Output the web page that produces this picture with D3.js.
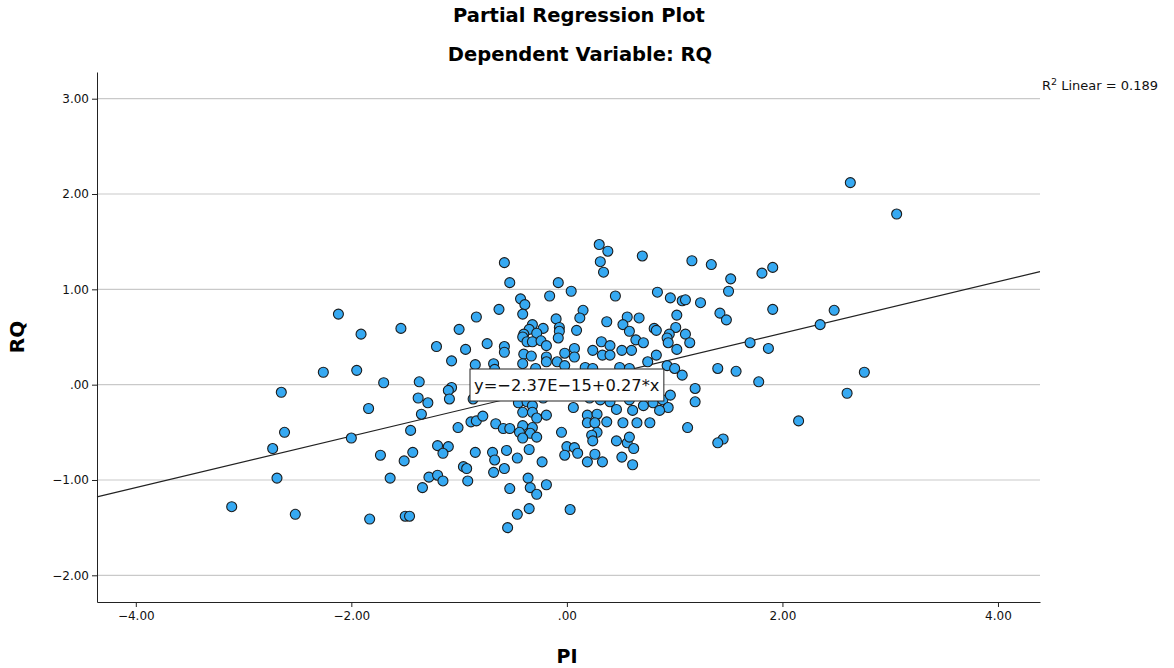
<!DOCTYPE html>
<html>
<head>
<meta charset="utf-8">
<script src="https://cdn.jsdelivr.net/npm/d3@7"></script>
<style>
  body { margin: 0; background: #fff; }
  text { font-family: "DejaVu Sans", sans-serif; }
</style>
</head>
<body>
<div id="roott"></div>
<script>
// DATA  (PI residual, RQ residual)
const points = [
  [2.63,2.12],[3.06,1.79],[-3.11,-1.28],[-2.73,-0.67],[-2.69,-0.98],[-2.65,-0.08],[-2.62,-0.50],[-2.52,-1.36],
  [-2.26,0.13],[-2.12,0.74],[-2.00,-0.56],[-1.95,0.15],[-1.91,0.53],[-1.84,-0.25],[-1.83,-1.41],[-1.73,-0.74],
  [-1.70,0.02],[-1.64,-0.98],[-1.54,0.59],[-1.51,-0.80],[-1.50,-1.38],[-1.46,-1.38],[-1.45,-0.48],[-1.43,-0.71],
  // upper left of centre
  [-0.58,1.28],[-0.53,1.07],[-0.43,0.90],[-0.39,0.84],[-0.41,0.74],[-0.63,0.79],[-0.84,0.71],[-1.00,0.58],
  [-0.16,0.93],[-0.32,0.63],[-0.22,0.59],[-0.35,0.58],[-0.40,0.53],[-0.28,0.54],
  // upper right of centre
  [0.30,1.47],[0.38,1.40],[0.31,1.29],[0.34,1.18],[0.70,1.35],[1.16,1.30],[1.34,1.26],[-0.08,1.07],[0.04,0.98],
  [0.45,0.93],[0.84,0.97],[0.96,0.91],[1.07,0.88],[1.10,0.89],[1.24,0.86],[1.42,0.75],[0.15,0.78],[0.12,0.70],
  [-0.10,0.69],[0.37,0.66],[0.56,0.71],[0.67,0.70],[0.52,0.63],[0.58,0.56],[0.09,0.57],[-0.07,0.60],[-0.07,0.56],
  [0.81,0.59],[0.83,0.57],[1.01,0.60],[1.02,0.73],[0.95,0.53],[1.10,0.53],
  // right side
  [1.52,1.11],[1.50,0.98],[1.81,1.17],[1.91,1.23],[1.48,0.68],[1.91,0.79],[2.48,0.78],[2.35,0.63],[1.70,0.44],
  [1.87,0.38],[1.57,0.14],[1.78,0.03],[2.76,0.13],[2.60,-0.09],[2.15,-0.38],[1.45,-0.57],[1.40,-0.61],[1.40,0.17],
  // centre left
  [-1.21,0.40],[-0.94,0.37],[-0.74,0.43],[-0.58,0.40],[-0.58,0.34],[-1.07,0.25],[-0.85,0.21],[-0.68,0.22],
  [-0.67,0.16],[-0.41,0.50],[-0.37,0.45],[-0.32,0.45],[-0.24,0.46],[-0.19,0.41],[-0.40,0.32],[-0.33,0.30],
  [-0.19,0.29],[-0.41,0.22],[-0.29,0.17],[-0.37,0.10],[-0.19,0.24],[-1.37,0.03],[-1.07,-0.03],[-1.10,-0.06],
  [-1.09,-0.15],[-1.38,-0.14],[-1.29,-0.19],[-0.87,-0.15],[-1.35,-0.31],[-1.01,-0.45],[-0.89,-0.39],[-0.84,-0.38],
  [-0.78,-0.33],[-0.66,-0.41],[-0.59,-0.46],[-0.53,-0.46],[-0.45,-0.19],[-0.37,-0.18],[-0.32,-0.22],[-0.41,-0.29],
  [-0.32,-0.29],[-0.28,-0.35],[-0.41,-0.43],[-0.32,-0.45],[-0.22,-0.14],[-0.19,-0.32],[-0.44,-0.50],[-0.34,-0.51],
  // centre right
  [-0.08,0.49],[-0.02,0.33],[0.07,0.38],[0.07,0.29],[-0.09,0.24],[-0.02,0.20],[0.17,0.18],[0.24,0.17],
  [0.32,0.45],[0.40,0.41],[0.33,0.31],[0.40,0.31],[0.24,0.36],[0.51,0.36],[0.60,0.36],[0.64,0.47],
  [0.71,0.44],[0.49,0.18],[0.58,0.17],[0.75,0.24],[0.83,0.31],[0.93,0.49],[0.94,0.44],[1.02,0.37],
  [1.14,0.44],[0.93,0.20],[1.00,0.17],[1.07,0.10],[1.19,-0.04],[1.19,-0.18],[1.12,-0.45],[-0.11,0.10],
  [0.06,-0.24],[0.19,-0.32],[0.28,-0.31],[0.19,-0.40],[0.26,-0.40],[0.37,-0.39],[0.52,-0.40],[0.65,-0.40],
  [0.77,-0.40],[0.40,-0.18],[0.46,-0.26],[0.71,-0.22],[0.80,-0.19],[0.89,-0.16],[0.94,-0.24],[0.96,-0.11],
  [0.58,-0.16],[0.21,-0.14],[0.31,-0.16],[0.28,-0.50],[-0.05,-0.50],[0.86,-0.27],[0.61,-0.27],
  // lower left
  [-1.20,-0.64],[-1.10,-0.65],[-1.15,-0.72],[-1.34,-1.08],[-1.28,-0.97],[-1.20,-0.95],[-1.15,-1.01],[-0.85,-0.71],
  [-0.96,-0.86],[-0.93,-0.88],[-0.92,-1.01],[-0.69,-0.71],[-0.67,-0.79],[-0.56,-0.69],[-0.46,-0.77],[-0.58,-0.88],
  [-0.68,-0.92],[-0.35,-0.68],[-0.41,-0.56],[-0.28,-0.55],[-0.23,-0.81],[-0.36,-0.98],[-0.34,-1.08],[-0.28,-1.15],
  [-0.19,-1.05],[-0.53,-1.09],[-0.35,-1.30],[-0.46,-1.36],[-0.55,-1.50],
  // lower right
  [0.23,-0.53],[0.24,-0.59],[0.00,-0.65],[0.07,-0.66],[-0.02,-0.74],[0.10,-0.72],[0.19,-0.81],[0.26,-0.73],
  [0.33,-0.81],[0.46,-0.59],[0.56,-0.61],[0.58,-0.55],[0.62,-0.67],[0.51,-0.76],[0.61,-0.84],[0.03,-1.31]
];

const xTicks = [-4, -2, 0, 2, 4];
const yTicks = [-2, -1, 0, 1, 2, 3];
const fitLine = { intercept: -2.37e-15, slope: 0.27 };
const rSquared = 0.189;

// DIMENSIONS
const W = 1174, H = 668;
const plotLeft = 97, plotRight = 1040, plotTop = 72, plotBottom = 602;

// SPSS style numbers: .00, 2.00, −1.00
function spssFmt(d) {
  let s = Math.abs(d).toFixed(2);
  if (Math.abs(d) < 1) s = s.replace(/^0/, '');
  return (d < 0 ? '\u2212' : '') + s;
}

let svg = d3.select('#roott').append('svg')
  .attr('width', W).attr('height', H);

let xScale = d3.scaleLinear().domain([-4.36, 4.39]).range([plotLeft, plotRight]);
let yScale = d3.scaleLinear().domain([-2.28, 3.28]).range([plotBottom, plotTop]);

// titles
svg.append('text').attr('x', 579).attr('y', 22).attr('text-anchor', 'middle')
  .style('font-size', '19.5px').style('font-weight', 'bold').text('Partial Regression Plot');
svg.append('text').attr('x', 580).attr('y', 61).attr('text-anchor', 'middle')
  .style('font-size', '19.5px').style('font-weight', 'bold').text('Dependent Variable: RQ');

// grid lines
svg.append('g').selectAll('line').data(yTicks).enter().append('line')
  .attr('x1', plotLeft).attr('x2', plotRight)
  .attr('y1', d => yScale(d)).attr('y2', d => yScale(d))
  .style('stroke', '#c9c9c9').style('stroke-width', 1.2);

// axes
let yAxis = svg.append('g').attr('transform', `translate(${plotLeft},0)`)
  .call(d3.axisLeft(yScale).tickValues(yTicks).tickFormat(spssFmt).tickSize(5).tickSizeOuter(0));
let xAxis = svg.append('g').attr('transform', `translate(0,${plotBottom})`)
  .call(d3.axisBottom(xScale).tickValues(xTicks).tickFormat(spssFmt).tickSize(5).tickSizeOuter(0));
[xAxis, yAxis].forEach(g => {
  g.select('.domain').style('stroke', '#222');
  g.selectAll('.tick line').style('stroke', '#222');
  g.selectAll('.tick text').style('font-family', '"DejaVu Sans", sans-serif')
    .style('font-size', '12px').style('fill', '#111');
});
yAxis.selectAll('.tick text').attr('x', -8);
xAxis.selectAll('.tick text').attr('y', 9);

// axis titles
svg.append('text').attr('x', 567).attr('y', 663).attr('text-anchor', 'middle')
  .style('font-size', '19px').style('font-weight', 'bold').text('PI');
svg.append('text').attr('transform', 'translate(24,337) rotate(-90)').attr('text-anchor', 'middle')
  .style('font-size', '20px').style('font-weight', 'bold').text('RQ');

// fit line across plot
let x0 = xScale.domain()[0], x1 = xScale.domain()[1];
svg.append('line')
  .attr('x1', xScale(x0)).attr('y1', yScale(fitLine.intercept + fitLine.slope * x0))
  .attr('x2', xScale(x1)).attr('y2', yScale(fitLine.intercept + fitLine.slope * x1))
  .style('stroke', '#222').style('stroke-width', 1.2);

// points
svg.append('g').selectAll('circle').data(points).enter().append('circle')
  .attr('cx', d => xScale(d[0]))
  .attr('cy', d => yScale(d[1]))
  .attr('r', 5)
  .style('fill', '#36a9f2')
  .style('stroke', '#1c1c1c')
  .style('stroke-width', 1.1);

// equation label
let eq = svg.append('g');
let eqText = eq.append('text').attr('x', 474).attr('y', 391)
  .style('font-size', '16.3px').style('fill', '#111')
  .text('y=\u22122.37E\u221215+0.27*x');
let bb = eqText.node().getBBox();
eq.insert('rect', 'text')
  .attr('x', bb.x - 4).attr('y', 369).attr('width', bb.width + 8).attr('height', 32)
  .style('fill', '#fff').style('stroke', '#222').style('stroke-width', 1);

// R2 label
let r2 = svg.append('text').attr('x', 1042).attr('y', 90).style('font-size', '13px').style('fill', '#111');
r2.append('tspan').text('R');
r2.append('tspan').attr('dy', -5).style('font-size', '9.5px').text('2');
r2.append('tspan').attr('dy', 5).text(' Linear = ' + rSquared);
</script>
</body>
</html>
